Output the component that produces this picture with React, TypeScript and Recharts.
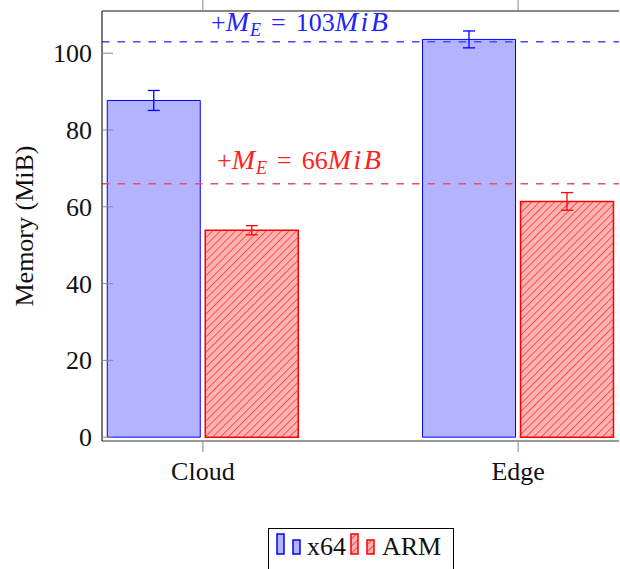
import React from "react";
import {
  BarChart,
  Bar,
  XAxis,
  YAxis,
  ErrorBar,
  ReferenceLine,
} from "recharts";

const categories = ["Cloud", "Edge"];
const x64Values = [87.7, 103.6];
const x64Errors = [2.6, 2.2];
const armValues = [53.9, 61.4];
const armErrors = [1.2, 2.3];
const yTicks = [0, 20, 40, 60, 80, 100];
const x64Limit = 103;
const armLimit = 66;

const data = categories.map((c, i) => ({
  idx: i,
  name: c,
  x64: x64Values[i],
  x64Err: x64Errors[i],
  arm: armValues[i],
  armErr: armErrors[i],
}));

const FONT = "'Liberation Serif', 'Times New Roman', serif";
const BLUE = "#0000ff";
const RED = "#ff0000";
const X64_FILL = "#b3b3ff";
const ARM_FILL = "#ffb3b3";

function LeftTick(props: any) {
  const { x, y, payload } = props;
  return (
    <g>
      <line x1={x + 10} x2={x + 21} y1={y} y2={y} stroke="#888" strokeWidth={1} />
      <text x={x} y={y} dy="0.35em" textAnchor="end" fontFamily={FONT} fontSize={26} fill="#111">
        {payload.value}
      </text>
    </g>
  );
}

function RightTick(props: any) {
  const { x, y } = props;
  return <line x1={x - 11} x2={x} y1={y} y2={y} stroke="#888" strokeWidth={1} />;
}

function TopTick(props: any) {
  const { x, y } = props;
  return <line x1={x} x2={x} y1={y - 11} y2={y} stroke="#888" strokeWidth={1} />;
}

// "+M_E = <value>MiB" drawn above a reference line
function mathLabel(value: number, color: string, dx: number, rise: number) {
  return (props: any) => {
    const vb = props.viewBox || { x: 0, y: 0 };
    return (
      <text x={vb.x + dx} y={vb.y - rise} fill={color} fontFamily={FONT} fontSize={26}>
        <tspan>+</tspan>
        <tspan fontStyle="italic" fontSize={28} letterSpacing={1}>M</tspan>
        <tspan fontStyle="italic" fontSize={18} dy={5}>E</tspan>
        <tspan dy={-5} dx={10}>=</tspan>
        <tspan dx={10}>{value}</tspan>
        <tspan fontStyle="italic" fontSize={28} letterSpacing={2.5}>MiB</tspan>
      </text>
    );
  };
}

function YLabel(props: any) {
  const vb = props.viewBox || { x: 0, y: 0, height: 0 };
  const cx = vb.x + 33;
  const cy = vb.y + vb.height / 2;
  return (
    <text
      x={cx}
      y={cy}
      transform={`rotate(-90, ${cx}, ${cy})`}
      textAnchor="middle"
      fontFamily={FONT}
      fontSize={26}
      fill="#111"
    >
      Memory (MiB)
    </text>
  );
}

function LegendIcon({ x, fill, stroke }: { x: number; fill: string; stroke: string }) {
  return (
    <g>
      <rect x={x} y={5} width={7} height={20} fill={fill} stroke={stroke} strokeWidth={1.5} />
      <rect x={x + 16} y={11} width={7} height={14} fill={fill} stroke={stroke} strokeWidth={1.5} />
    </g>
  );
}

function ChartLegend() {
  return (
    <div
      style={{
        position: "absolute",
        left: 268,
        top: 528,
        width: 186,
        height: 50,
        border: "1px solid #000",
        background: "#fff",
        boxSizing: "border-box",
      }}
    >
      <svg width={186} height={50}>
        <defs>
          <pattern id="hatchLegend" patternUnits="userSpaceOnUse" width={5} height={5} patternTransform="rotate(45)">
            <rect width={5} height={5} fill={ARM_FILL} />
            <line x1={0} y1={0} x2={0} y2={5} stroke={RED} strokeWidth={1.2} />
          </pattern>
        </defs>
        <LegendIcon x={8} fill={X64_FILL} stroke={BLUE} />
        <text x={38} y={26} fontFamily={FONT} fontSize={26} fill="#111">
          x64
        </text>
        <LegendIcon x={82} fill="url(#hatchLegend)" stroke={RED} />
        <text x={113} y={26} fontFamily={FONT} fontSize={26} fill="#111">
          ARM
        </text>
      </svg>
    </div>
  );
}

export default function App() {
  return (
    <div style={{ position: "absolute", left: 0, top: 0, width: 620, height: 569, background: "#fff" }}>
      <BarChart
        width={620}
        height={569}
        data={data}
        margin={{ top: 10, right: 1, left: 0, bottom: 68 }}
        barSize={93}
        barGap={5}
      >
        <defs>
          <pattern id="hatch" patternUnits="userSpaceOnUse" width={5.4} height={5.4} patternTransform="rotate(45)">
            <rect width={5.4} height={5.4} fill={ARM_FILL} />
            <line x1={0} y1={0} x2={0} y2={5.4} stroke={RED} strokeWidth={1.1} />
          </pattern>
        </defs>
        <XAxis
          xAxisId="bottom"
          dataKey="idx"
          type="number"
          domain={[-0.32, 1.32]}
          ticks={[0, 1]}
          tickFormatter={(v: number) => categories[v] ?? ""}
          height={60}
          tickSize={11}
          tickMargin={10}
          tickLine={{ stroke: "#888" }}
          axisLine={{ stroke: "#777", strokeWidth: 1.5 }}
          tick={{ fontFamily: FONT, fontSize: 26, fill: "#111" }}
          allowDataOverflow
        />
        <XAxis
          xAxisId="top"
          dataKey="idx"
          type="number"
          orientation="top"
          domain={[-0.32, 1.32]}
          ticks={[0, 1]}
          height={1}
          tick={<TopTick />}
          tickSize={0}
          tickMargin={0}
          axisLine={{ stroke: "#111", strokeWidth: 1.2 }}
          allowDataOverflow
        />
        <YAxis
          yAxisId="left"
          domain={[-1, 111]}
          ticks={yTicks}
          width={102}
          tickSize={0}
          tickMargin={10}
          tick={<LeftTick />}
          axisLine={{ stroke: "#222", strokeWidth: 1.2 }}
          allowDataOverflow
          label={{ content: YLabel }}
        />
        <YAxis
          yAxisId="right"
          orientation="right"
          domain={[-1, 111]}
          ticks={yTicks}
          width={0}
          tickSize={0}
          tickMargin={0}
          tick={<RightTick />}
          axisLine={{ stroke: "#222", strokeWidth: 1.2 }}
          allowDataOverflow
        />
        <Bar
          xAxisId="bottom"
          yAxisId="left"
          dataKey="x64"
          fill={X64_FILL}
          stroke={BLUE}
          strokeWidth={1}
          isAnimationActive={false}
        >
          <ErrorBar dataKey="x64Err" width={6} stroke={BLUE} strokeWidth={1.3} />
        </Bar>
        <Bar
          xAxisId="bottom"
          yAxisId="left"
          dataKey="arm"
          fill="url(#hatch)"
          stroke={RED}
          strokeWidth={1.5}
          isAnimationActive={false}
        >
          <ErrorBar dataKey="armErr" width={6} stroke={RED} strokeWidth={1.3} />
        </Bar>
        <ReferenceLine
          xAxisId="bottom"
          yAxisId="left"
          y={x64Limit}
          stroke="#4a4aff"
          strokeWidth={1.5}
          strokeDasharray="7.5 8"
          label={{ content: mathLabel(x64Limit, "#2222ff", 109, 11) }}
        />
        <ReferenceLine
          xAxisId="bottom"
          yAxisId="left"
          y={armLimit}
          stroke="#e8506a"
          strokeWidth={1.5}
          strokeDasharray="7.5 8"
          label={{ content: mathLabel(armLimit, "#ff2020", 115, 15) }}
        />
      </BarChart>
      <ChartLegend />
    </div>
  );
}
